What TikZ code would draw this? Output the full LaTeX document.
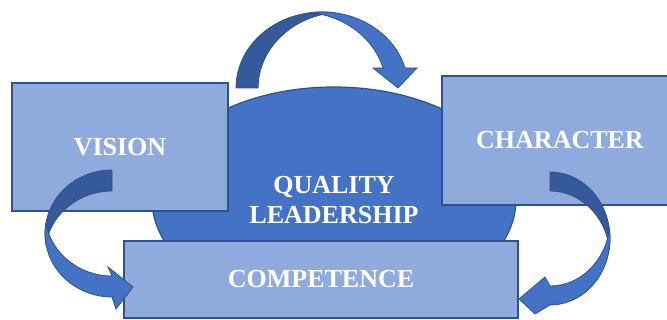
\documentclass[tikz,border=0pt]{standalone}
\usepackage{fontspec}
\setmainfont{Liberation Serif}
\usetikzlibrary{shapes.geometric}
\definecolor{boxblue}{HTML}{8FAADC}
\definecolor{midblue}{HTML}{4472C4}
\definecolor{darkblue}{HTML}{35599A}
\definecolor{edgeblue}{HTML}{2F528F}
\tikzset{
  idea/.style={draw=edgeblue, line width=1.2pt, fill=boxblue, text=white,
    font=\fontsize{26}{30}\selectfont\bfseries, align=center, inner sep=0pt},
  backband/.style={fill=darkblue, draw=edgeblue, line width=0.8pt},
  frontband/.style={fill=midblue, draw=edgeblue, line width=0.8pt}
}
\begin{document}
\begin{tikzpicture}[x=1pt,y=1pt]
\clip (0,0) rectangle (667,320);
\node[idea, ellipse, fill=midblue, minimum width=364pt, minimum height=226pt] (Q) at (334,120) {QUALITY\\LEADERSHIP};
\node[idea, minimum width=216pt, minimum height=128pt] (V) at (120,173) {VISION};
\node[idea, minimum width=236pt, minimum height=129pt] (C) at (560,179.5) {CHARACTER};
\node[idea, minimum width=394pt, minimum height=77pt] (P) at (321,40.5) {COMPETENCE};
% top arrow
\draw[backband] (236,232) arc[start angle=180, end angle=82.6, x radius=86, y radius=76]
  arc[start angle=97.4, end angle=180, x radius=86, y radius=76] -- cycle;
\draw[frontband] (310.9,307.4) arc[start angle=97.4, end angle=15.26, x radius=86, y radius=76]
  -- (417,252) -- (398,232) -- (373,252) -- (383,252)
  arc[start angle=15.26, end angle=82.6, x radius=86, y radius=76] -- cycle;
% left arrow
\draw[backband] (112,150) arc[start angle=90, end angle=189.52, x radius=67, y radius=63.5]
  arc[start angle=170.48, end angle=90, x radius=67, y radius=63.5] -- cycle;
\draw[frontband] (45.92,97) arc[start angle=170.48, end angle=270, x radius=67, y radius=63.5]
  -- (116,11) -- (133,33) -- (108,53) -- (112,44)
  arc[start angle=270, end angle=189.52, x radius=67, y radius=63.5] -- cycle;
% right arrow
\draw[backband] (550,148) arc[start angle=90, end angle=-8.21, x radius=60, y radius=66.5]
  arc[start angle=8.21, end angle=90, x radius=60, y radius=66.5] -- cycle;
\draw[frontband] (609.4,91) arc[start angle=8.21, end angle=-90, x radius=60, y radius=66.5]
  -- (535,6) -- (519,21) -- (545,43) -- (550,34)
  arc[start angle=-90, end angle=-8.21, x radius=60, y radius=66.5] -- cycle;
\end{tikzpicture}
\end{document}
